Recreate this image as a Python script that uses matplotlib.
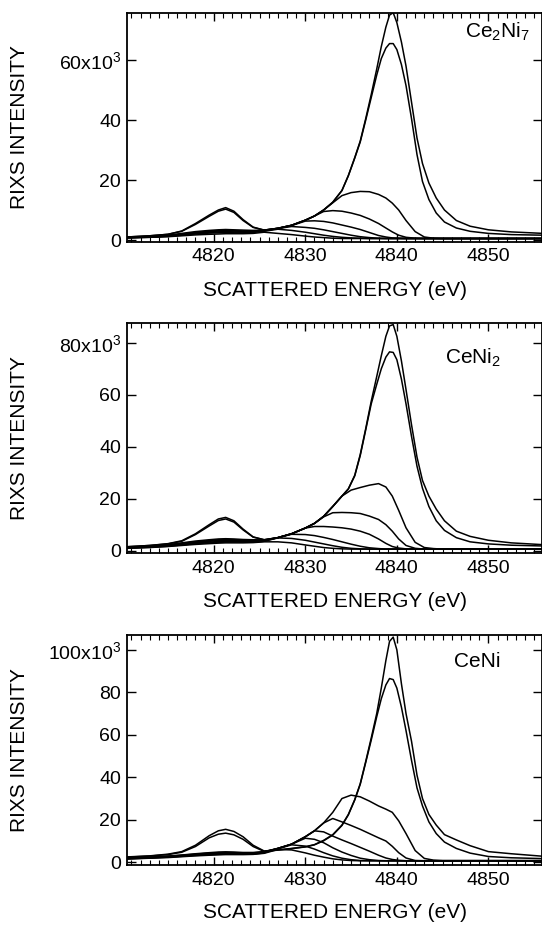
import matplotlib
matplotlib.use("Agg")
import matplotlib.pyplot as plt
from matplotlib.ticker import MultipleLocator, FixedLocator

plt.rcParams['font.family'] = ['Liberation Sans', 'DejaVu Sans']
plt.rcParams['mathtext.fontset'] = 'custom'
plt.rcParams['mathtext.rm'] = 'Liberation Sans'
plt.rcParams['mathtext.it'] = 'Liberation Sans'
plt.rcParams['mathtext.default'] = 'regular'

# ---------------- data (intensities in units of 10^3) ----------------
# energy grid for the two resonant (strong) spectra of each panel
peak_energy_ev = [4810.5, 4813, 4815, 4816.5, 4818, 4819.5, 4820.5, 4821.3, 4822.2, 4823.2,
                  4824.3, 4825.5, 4827, 4828.5, 4830, 4831, 4832, 4833, 4834,
                  4834.7, 4835.4, 4836, 4836.6, 4837.2, 4837.8, 4838.3, 4838.8, 4839.2, 4839.6,
                  4840.0, 4840.5, 4841, 4841.6, 4842.2, 4842.8, 4843.5, 4844.3, 4845.2,
                  4846.5, 4848, 4850, 4852.5, 4856]
# energy grid for the weaker spectra
energy_ev = [4810.5, 4813, 4815, 4816.5, 4818, 4819.5, 4820.5, 4821.3, 4822.2, 4823.2,
             4824.3, 4825.5, 4827, 4828.5, 4830, 4831, 4832, 4833, 4834, 4835,
             4836, 4837, 4838, 4838.8, 4839.5, 4840.2, 4841, 4842, 4843, 4844,
             4845, 4846.5, 4848, 4850, 4852.5, 4856]

# Ce2Ni7
ce2ni7_a = [1.0, 1.4, 1.9, 3.0, 5.5, 8.3, 10.0, 10.8, 9.6, 6.8, 4.3, 3.3, 3.9, 4.9, 6.6, 8.0, 10.0, 12.6, 16.5,
            21.5, 27.5, 33.0, 40.5, 48.5, 57.0, 64.5, 71.0, 75.0, 75.8, 72.5, 66.0, 58.0, 46.0, 34.0, 25.5, 19.0, 14.0, 10.0,
            6.5, 4.6, 3.4, 2.7, 2.2]
ce2ni7_b = [1.0, 1.4, 1.9, 2.9, 5.2, 7.9, 9.6, 10.3, 9.2, 6.5, 4.2, 3.3, 3.9, 4.9, 6.6, 8.0, 10.0, 12.6, 16.5,
            21.4, 27.3, 32.7, 40.0, 47.5, 55.0, 60.5, 64.0, 65.5, 65.5, 63.5, 58.5, 51.5, 40.5, 28.5, 19.5, 13.5, 9.0, 6.0,
            4.0, 2.9, 2.2, 1.8, 1.6]
ce2ni7_c = [0.9, 1.2, 1.6, 2.2, 2.8, 3.2, 3.4, 3.5, 3.4, 3.3, 3.2, 3.3,
            3.9, 4.9, 6.6, 8.0, 10.0, 12.4, 14.8, 15.8, 16.2, 16.1, 15.2, 14.0, 12.3,
            10.0, 6.5, 2.8, 1.0, 0.6, 0.5, 0.5, 0.5, 0.5, 0.5, 0.5]
ce2ni7_d = [0.8, 1.1, 1.5, 2.0, 2.5, 2.9, 3.1, 3.2, 3.1, 3.0, 3.0, 3.2,
            3.9, 4.9, 6.6, 8.0, 9.5, 9.8, 9.6, 9.0, 8.2, 7.0, 5.5, 4.0, 2.7,
            1.6, 0.9, 0.6, 0.5, 0.5, 0.5, 0.5, 0.5, 0.5, 0.5, 0.5]
ce2ni7_e = [0.8, 1.0, 1.4, 1.9, 2.4, 2.8, 3.0, 3.1, 3.0, 2.9, 2.9, 3.1,
            3.8, 4.8, 6.3, 6.4, 6.2, 5.7, 5.0, 4.3, 3.5, 2.5, 1.5, 1.0, 0.7,
            0.6, 0.5, 0.5, 0.5, 0.5, 0.5, 0.5, 0.5, 0.5, 0.5, 0.5]
ce2ni7_f = [0.8, 1.0, 1.3, 1.7, 2.2, 2.5, 2.7, 2.8, 2.7, 2.7, 2.8, 3.1,
            3.8, 4.5, 4.2, 3.9, 3.4, 2.8, 2.2, 1.6, 1.1, 0.8, 0.6, 0.5, 0.5,
            0.5, 0.5, 0.5, 0.5, 0.5, 0.5, 0.5, 0.5, 0.5, 0.5, 0.5]
ce2ni7_g = [0.7, 0.9, 1.2, 1.6, 2.0, 2.3, 2.4, 2.5, 2.4, 2.4, 2.5, 2.9,
            3.6, 3.2, 2.6, 2.1, 1.6, 1.2, 0.9, 0.7, 0.6, 0.5, 0.5, 0.5, 0.5,
            0.5, 0.5, 0.5, 0.5, 0.5, 0.5, 0.5, 0.5, 0.5, 0.5, 0.5]
ce2ni7_h = [0.7, 0.9, 1.1, 1.4, 1.7, 1.9, 2.0, 2.1, 2.1, 2.1, 2.2, 2.6,
            2.2, 1.8, 1.3, 1.0, 0.8, 0.6, 0.5, 0.5, 0.5, 0.5, 0.5, 0.5, 0.5,
            0.5, 0.5, 0.5, 0.5, 0.5, 0.5, 0.5, 0.5, 0.5, 0.5, 0.5]

# CeNi2
ceni2_a = [1.5, 2.0, 2.7, 3.8, 6.5, 10.0, 12.2, 12.8, 11.5, 8.3, 5.3, 4.2, 5.0, 6.5, 8.7, 10.5, 13.2, 17.0, 21.0,
           23.8, 29.0, 37.0, 47.0, 57.5, 67.0, 75.0, 82.5, 86.5, 87.0, 82.5, 73.0, 62.0, 48.5, 36.0, 27.0, 21.0, 16.0, 11.5,
           7.5, 5.5, 4.0, 3.0, 2.3]
ceni2_b = [1.5, 2.0, 2.6, 3.6, 6.2, 9.5, 11.6, 12.2, 11.0, 8.0, 5.2, 4.2, 5.0, 6.5, 8.7, 10.5, 13.2, 17.0, 21.0,
           23.7, 28.8, 36.6, 46.5, 56.5, 64.0, 70.0, 74.5, 76.5, 76.3, 73.5, 66.0, 56.5, 44.0, 32.5, 24.0, 17.0, 11.5, 7.8,
           5.0, 3.4, 2.6, 2.1, 1.8]
ceni2_c = [1.3, 1.7, 2.3, 3.0, 3.7, 4.2, 4.5, 4.6, 4.5, 4.3, 4.2, 4.1,
           5.0, 6.5, 8.7, 10.5, 13.2, 17.0, 21.0, 23.3, 24.3, 25.2, 25.8, 24.5, 21.0,
           15.5, 8.8, 3.2, 1.2, 0.8, 0.6, 0.6, 0.6, 0.6, 0.6, 0.6]
ceni2_d = [1.2, 1.6, 2.1, 2.8, 3.4, 3.9, 4.2, 4.3, 4.2, 4.1, 4.0, 4.0,
           5.0, 6.5, 8.7, 10.5, 13.0, 14.6, 14.7, 14.6, 14.3, 13.3, 12.0, 10.0, 7.5,
           4.5, 2.0, 0.9, 0.6, 0.6, 0.6, 0.6, 0.6, 0.6, 0.6, 0.6]
ceni2_e = [1.1, 1.5, 2.0, 2.6, 3.2, 3.6, 3.9, 4.0, 3.9, 3.8, 3.8, 3.9,
           5.0, 6.5, 8.7, 9.3, 9.3, 9.1, 8.8, 8.3, 7.5, 6.3, 4.5, 2.8, 1.6,
           1.0, 0.7, 0.6, 0.6, 0.6, 0.6, 0.6, 0.6, 0.6, 0.6, 0.6]
ceni2_f = [1.0, 1.4, 1.9, 2.4, 2.9, 3.3, 3.5, 3.6, 3.6, 3.5, 3.5, 3.7,
           5.0, 6.3, 6.2, 5.8, 5.1, 4.3, 3.4, 2.5, 1.7, 1.1, 0.8, 0.6, 0.6,
           0.6, 0.6, 0.6, 0.6, 0.6, 0.6, 0.6, 0.6, 0.6, 0.6, 0.6]
ceni2_g = [1.0, 1.3, 1.7, 2.2, 2.7, 3.0, 3.2, 3.3, 3.3, 3.3, 3.3, 3.6,
           4.9, 4.7, 4.0, 3.3, 2.6, 1.9, 1.3, 0.9, 0.7, 0.6, 0.6, 0.6, 0.6,
           0.6, 0.6, 0.6, 0.6, 0.6, 0.6, 0.6, 0.6, 0.6, 0.6, 0.6]
ceni2_h = [0.9, 1.2, 1.6, 2.0, 2.4, 2.7, 2.9, 3.0, 3.0, 3.0, 3.1, 3.4,
           3.4, 3.0, 2.2, 1.7, 1.2, 0.9, 0.7, 0.6, 0.6, 0.6, 0.6, 0.6, 0.6,
           0.6, 0.6, 0.6, 0.6, 0.6, 0.6, 0.6, 0.6, 0.6, 0.6, 0.6]

# CeNi
ceni_a = [2.5, 3.0, 3.8, 5.0, 8.0, 12.5, 14.8, 15.5, 14.5, 12.0, 8.0, 5.3, 5.8, 6.5, 7.3, 8.3, 10.3, 13.0, 17.5,
          22.5, 29.5, 37.0, 47.5, 58.5, 70.0, 82.0, 95.0, 104.0, 106.0, 100.0, 84.0, 70.0, 57.0, 41.0, 30.0, 22.5, 17.5, 13.0,
          10.5, 7.8, 5.0, 4.0, 2.8]
ceni_b = [2.4, 2.9, 3.6, 4.7, 7.4, 11.5, 13.2, 13.7, 12.9, 10.8, 7.4, 5.1, 5.7, 6.4, 7.2, 8.2, 10.1, 12.8, 17.3,
          22.3, 29.3, 36.7, 47.0, 57.5, 68.5, 77.0, 83.5, 86.5, 86.0, 82.0, 73.0, 62.0, 48.0, 35.0, 26.5, 19.0, 13.5, 9.5,
          6.5, 4.3, 2.7, 2.1, 1.7]
ceni_c = [2.0, 2.4, 2.9, 3.4, 4.0, 4.5, 4.8, 4.9, 4.8, 4.6, 4.6, 5.0,
          6.5, 8.5, 12.0, 14.8, 18.5, 23.5, 30.0, 31.6, 30.8, 28.8, 26.5, 25.0, 23.5,
          19.5, 13.5, 5.5, 1.8, 1.0, 0.8, 0.8, 0.8, 0.8, 0.8, 0.8]
ceni_d = [1.9, 2.3, 2.8, 3.3, 3.8, 4.3, 4.5, 4.6, 4.5, 4.4, 4.4, 4.9,
          6.5, 8.5, 12.0, 14.8, 18.5, 20.6, 19.0, 17.3, 15.5, 13.5, 11.5, 10.0, 7.5,
          4.5, 2.0, 0.8, 0.7, 0.7, 0.7, 0.7, 0.7, 0.7, 0.7, 0.7]
ceni_e = [1.8, 2.2, 2.7, 3.1, 3.6, 4.0, 4.2, 4.3, 4.3, 4.2, 4.2, 4.8,
          6.5, 8.5, 12.0, 14.8, 14.3, 12.3, 10.5, 8.8, 7.0, 5.2, 3.3, 2.0, 1.3,
          0.9, 0.7, 0.7, 0.7, 0.7, 0.7, 0.7, 0.7, 0.7, 0.7, 0.7]
ceni_f = [1.7, 2.1, 2.5, 2.9, 3.4, 3.8, 4.0, 4.1, 4.1, 4.0, 4.0, 4.6,
          6.5, 8.5, 11.3, 10.8, 9.2, 6.8, 4.8, 3.2, 1.9, 1.2, 0.8, 0.7, 0.7,
          0.7, 0.7, 0.7, 0.7, 0.7, 0.7, 0.7, 0.7, 0.7, 0.7, 0.7]
ceni_g = [1.6, 2.0, 2.4, 2.8, 3.2, 3.5, 3.7, 3.8, 3.8, 3.8, 3.8, 4.4,
          6.3, 8.2, 7.6, 6.2, 4.5, 3.0, 1.9, 1.2, 0.8, 0.7, 0.7, 0.7, 0.7,
          0.7, 0.7, 0.7, 0.7, 0.7, 0.7, 0.7, 0.7, 0.7, 0.7, 0.7]
ceni_h = [1.5, 1.9, 2.2, 2.6, 3.0, 3.3, 3.5, 3.6, 3.6, 3.6, 3.7, 4.2,
          6.0, 5.8, 4.4, 3.3, 2.4, 1.6, 1.1, 0.8, 0.7, 0.7, 0.7, 0.7, 0.7,
          0.7, 0.7, 0.7, 0.7, 0.7, 0.7, 0.7, 0.7, 0.7, 0.7, 0.7]

panel_names = ["Ce$_2$Ni$_7$", "CeNi$_2$", "CeNi"]
ce2ni7_ticks = [0, 20, 40, 60]
ceni2_ticks = [0, 20, 40, 60, 80]
ceni_ticks = [0, 20, 40, 60, 80, 100]
x_ticks = [4820, 4830, 4840, 4850]

# ---------------- figure ----------------
W, H = 542, 927
fig = plt.figure(figsize=(W / 100, H / 100), dpi=100)

panels = [
    dict(strong=[ce2ni7_a, ce2ni7_b],
         weak=[ce2ni7_c, ce2ni7_d, ce2ni7_e, ce2ni7_f, ce2ni7_g, ce2ni7_h],
         top=12.7, bottom=241.5, ylim=(-0.5, 75.8), ticks=ce2ni7_ticks,
         name=panel_names[0], name_xy=(0.972, 0.915), xlab_y=-0.212),
    dict(strong=[ceni2_a, ceni2_b],
         weak=[ceni2_c, ceni2_d, ceni2_e, ceni2_f, ceni2_g, ceni2_h],
         top=323.3, bottom=553.0, ylim=(-0.9, 87.5), ticks=ceni2_ticks,
         name=panel_names[1], name_xy=(0.902, 0.849), xlab_y=-0.210),
    dict(strong=[ceni_a, ceni_b],
         weak=[ceni_c, ceni_d, ceni_e, ceni_f, ceni_g, ceni_h],
         top=635.0, bottom=865.0, ylim=(-1.3, 107.0), ticks=ceni_ticks,
         name=panel_names[2], name_xy=(0.902, 0.883), xlab_y=-0.205),
]

left_px, right_px = 126.8, 541.5
for p in panels:
    ax = fig.add_axes([left_px / W, 1 - p['bottom'] / H,
                       (right_px - left_px) / W, (p['bottom'] - p['top']) / H])
    for y in p['weak']:
        ax.plot(energy_ev, y, color='black', lw=1.1, solid_joinstyle='round')
    for y in p['strong']:
        ax.plot(peak_energy_ev, y, color='black', lw=1.1, solid_joinstyle='round')
    ax.set_xlim(4810.5, 4855.8)
    ax.set_ylim(*p['ylim'])

    ax.xaxis.set_major_locator(FixedLocator(x_ticks))
    ax.xaxis.set_minor_locator(MultipleLocator(1))
    ax.set_xticklabels([str(t) for t in x_ticks])
    ax.yaxis.set_major_locator(FixedLocator(p['ticks']))
    labels = [str(t) for t in p['ticks']]
    labels[-1] = labels[-1] + "x10$^{3}$"
    ax.set_yticklabels(labels)

    ax.tick_params(axis='x', which='major', direction='in', length=6, width=1.0,
                   top=True, bottom=True, labelsize=14, pad=5)
    ax.tick_params(axis='x', which='minor', direction='in', length=3.5, width=0.8,
                   top=True, bottom=True)
    ax.tick_params(axis='y', which='major', direction='in', length=6.5, width=1.0,
                   left=True, right=True, labelsize=14, pad=4)
    for s in ax.spines.values():
        s.set_linewidth(1.3)

    ax.set_xlabel("SCATTERED ENERGY (eV)", fontsize=15, va='center')
    ax.xaxis.set_label_coords(0.501, p['xlab_y'])
    ax.set_ylabel("RIXS INTENSITY", fontsize=15, va='center')
    ax.yaxis.set_label_coords(-0.259, 0.5)

    ax.text(p['name_xy'][0], p['name_xy'][1], p['name'], transform=ax.transAxes,
            ha='right', va='center', fontsize=15)

fig.savefig("out.png", dpi=100)
